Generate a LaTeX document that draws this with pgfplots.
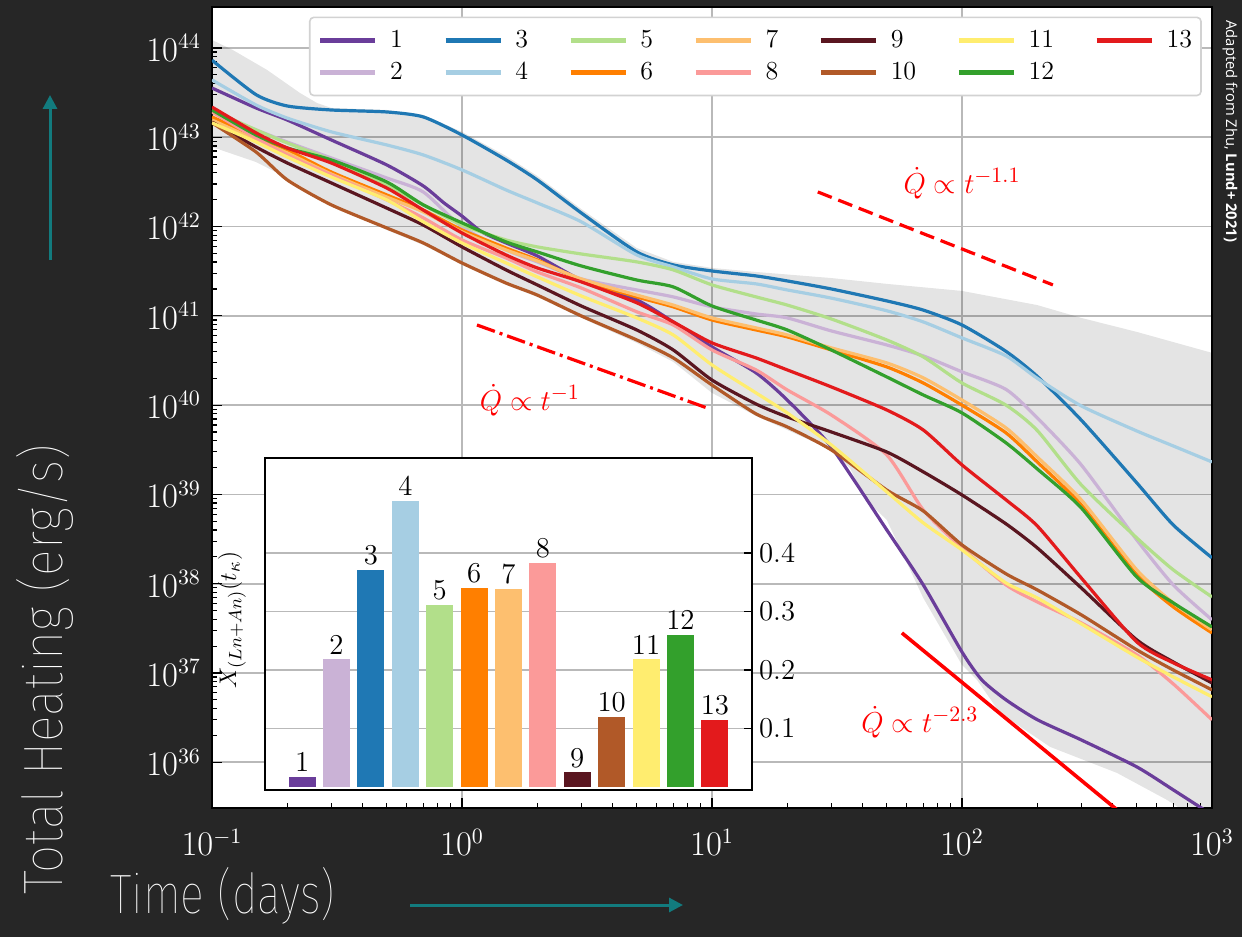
\documentclass[border=0pt]{standalone}
\usepackage{fontspec}
\usepackage{graphicx}
\usepackage{pgfplots}
\usepackage{pgfplotstable}
\pgfplotsset{compat=1.18}
\usetikzlibrary{arrows.meta}
\newfontfamily\thinfont{Fira Sans Thin}
\newfontfamily\credfont{Open Sans}
\definecolor{bg}{HTML}{262626}
\definecolor{arrowteal}{HTML}{127B7E}
\definecolor{c1}{HTML}{6A3D9A}
\definecolor{c2}{HTML}{CAB2D6}
\definecolor{c3}{HTML}{1F78B4}
\definecolor{c4}{HTML}{A6CEE3}
\definecolor{c5}{HTML}{B2DF8A}
\definecolor{c6}{HTML}{FF7F00}
\definecolor{c7}{HTML}{FDBF6F}
\definecolor{c8}{HTML}{FB9A99}
\definecolor{c9}{HTML}{5A1620}
\definecolor{c10}{HTML}{B15928}
\definecolor{c11}{HTML}{FFED6F}
\definecolor{c12}{HTML}{33A02C}
\definecolor{c13}{HTML}{E31A1C}

\pgfplotstableread{
t    c2      c3      c4      c5      c6      c7      c8      c9      c10     c11     c12     c13
0.1  1.92e43 7.3e43  4.39e43 2.02e43 1.69e43 1.56e43 1.92e43 1.48e43 1.45e43 1.45e43 2.02e43 2.18e43
0.15 1.21e43 3.0e43  2.30e43 1.21e43 1.01e43 9.33e42 9.82e42 7.78e42 6.84e42 8.85e42 1.06e43 1.12e43
0.2  8.85e42 2.24e43 1.64e43 8.63e42 7.21e42 6.67e42 6.34e42 5.15e42 3.33e42 6.01e42 7.59e42 7.59e42
0.3  5.86e42 2.02e43 1.15e43 5.57e42 4.08e42 3.88e42 3.78e42 3.08e42 1.75e42 3.59e42 5.57e42 5.15e42
0.5  3.50e42 1.92e43 8.20e42 2.92e42 2.26e42 2.14e42 1.99e42 1.61e42 9.64e41 1.99e42 3.16e42 2.70e42
0.7  2.44e42 1.69e43 6.34e42 1.75e42 1.53e42 1.46e42 1.25e42 1.04e42 6.55e41 1.13e42 1.75e42 1.53e42
1    9.9e41  1.06e43 4.31e42 1.04e42 9.16e41 8.71e41 7.08e41 5.92e41 3.91e41 6.55e41 1.10e42 8.47e41
1.5  5.47e41 5.57e42 2.57e42 7.08e41 5.75e41 5.47e41 4.45e41 3.27e41 2.33e41 3.91e41 6.73e41 4.81e41
2    4.02e41 3.33e42 1.84e42 5.92e41 4.23e41 4.12e41 3.10e41 2.22e41 1.71e41 2.73e41 5.20e41 3.44e41
3    2.59e41 1.42e42 1.13e42 4.93e41 2.52e41 2.59e41 2.05e41 1.29e41 9.98e40 1.67e41 3.62e41 2.40e41
5    1.95e41 5.2e41  4.81e41 4.02e41 1.63e41 1.71e41 1.11e41 6.95e40 5.37e40 9.48e40 2.52e41 1.40e41
7    1.63e41 3.72e41 3.53e41 3.27e41 1.26e41 1.32e41 7.9e40  4.15e40 3.38e40 6.11e40 2.11e41 8.55e40
10   1.26e41 3.18e41 2.59e41 2.22e41 8.99e40 9.48e40 4.15e40 1.91e40 1.68e40 2.82e40 1.29e41 4.98e40
15   1.05e41 2.80e41 2.28e41 1.63e41 6.95e40 7.33e40 2.48e40 1.03e40 7.98e39 1.37e40 8.99e40 3.38e40
20   9.48e40 2.46e41 1.95e41 1.32e41 5.81e40 6.11e40 1.48e40 7.38e39 5.70e39 8.18e39 6.95e40 2.48e40
30   6.78e40 2.0e41  1.58e41 9.23e40 4.15e40 4.38e40 7.76e39 5.01e39 3.15e39 3.58e39 4.15e40 1.60e40
50   4.72e40 1.47e41 1.14e41 5.37e40 2.68e40 2.97e40 2.77e39 2.99e39 1.12e39 1.07e39 2.07e40 8.83e39
70   3.56e40 1.16e41 8.55e40 3.47e40 1.77e40 2.02e40 6.71e38 1.79e39 6.53e38 4.80e38 1.30e40 5.27e39
100  2.36e40 7.9e40  5.66e40 1.77e40 1.00e40 1.14e40 2.52e38 9.86e38 2.72e38 2.39e38 8.18e39 2.14e39
150  1.50e40 4.0e40  3.56e40 1.00e40 4.89e39 5.56e39 9.70e37 4.68e38 1.29e38 1.02e38 3.78e39 8.69e38
200  7.2e39  2.1e40  2.0e40  5.2e39  2.31e39 2.63e39 6.25e37 2.52e38 8.53e37 6.93e37 1.93e39 4.44e38
300  2.14e39 6.8e39  9.8e39  1.28e39 7.64e38 8.69e38 3.64e37 8.97e37 4.48e37 3.55e37 7.06e38 1.16e38
500  3.10e38 1.35e39 5.14e39 3.26e38 1.26e38 1.43e38 1.60e37 2.35e37 1.82e37 1.51e37 1.19e38 2.23e37
700  9.70e37 4.55e38 3.49e39 1.43e38 5.50e37 6.10e37 7.55e36 1.33e37 1.08e37 9.04e36 6.10e37 1.30e37
1000 3.94e37 1.95e38 2.31e39 7.11e37 2.81e37 3.04e37 2.99e36 7.74e36 6.47e36 5.41e36 3.28e37 8.38e36
}\heat

\pgfplotstableread{
t     c1
0.1   3.56e43
0.15  2.13e43
0.2   1.56e43
0.3   9.33e42
0.5   4.90e42
0.7   2.85e42
0.847 1.84e42
1     1.31e42
1.2   8.71e41
1.5   6.55e41
2     4.69e41
3     2.52e41
5     1.51e41
7     8.55e40
10    4.49e40
15    2.30e40
20    1.14e40
30    3.40e39
50    4.01e38
70    9.70e37
100   1.72e37
120   8.38e36
150   5.0e36
200   3.0e36
300   1.78e36
500   8.89e35
700   4.91e35
1000  2.58e35
}\heatone

\begin{document}
\begin{tikzpicture}
\fill[bg] (0,0) rectangle (621pt,468.5pt);
\path[use as bounding box] (0,0) rectangle (621pt,468.5pt);

\begin{axis}[
  at={(106pt,64.5pt)}, anchor=south west,
  scale only axis, width=500pt, height=400.5pt,
  xmode=log, ymode=log,
  xmin=0.1, xmax=1000, ymin=3.08e35, ymax=2.88e44,
  xtick={0.1,1,10,100,1000},
  ytick={1e36,1e37,1e38,1e39,1e40,1e41,1e42,1e43,1e44},
  grid=major, major grid style={gray!55, line width=0.8pt},
  tick pos=left, tick align=inside,
  major tick length=5pt, minor tick length=2.5pt,
  every tick/.style={black, line width=0.6pt},
  axis line style={black, line width=1pt},
  axis background/.style={fill=white},
  ticklabel style={text=white, font=\fontsize{16}{16}\selectfont},
  xticklabel style={yshift=-7pt},
  yticklabel style={xshift=-2pt},
  legend columns=7,
  legend cell align=left,
  legend image code/.code={\draw[#1, line width=2.6pt] (0pt,0pt) -- (27.5pt,0pt); \path (34pt,0pt);},
  legend style={at={(0.097,0.988)}, anchor=north west, draw=gray!35, line width=0.8pt,
    rounded corners=2pt, fill=white, font=\fontsize{13}{13}\selectfont,
    inner xsep=4pt, inner ysep=4pt,
    nodes={inner xsep=0.5pt, inner ysep=2.5pt},
    /tikz/every even column/.append style={column sep=19.5pt},
    /tikz/row sep=0.5pt},
]
% grey band
\addplot[draw=none, fill=black, fill opacity=0.105, forget plot] coordinates {
(0.1,1.23e44) (0.121,9.5e43) (0.166,5.68e43) (0.225,3.13e43) (0.263,2.42e43) (0.3,2.13e43)
(0.5,2.02e43) (0.7,1.78e43) (1,1.15e43) (1.5,6.18e42) (2,3.69e42) (3,1.57e42) (5,5.75e41)
(7,4.02e41) (10,3.44e41) (15,3.10e41) (30,2.65e41) (50,2.28e41) (100,1.90e41) (200,1.32e41)
(300,9.48e40) (500,6.61e40) (1000,3.85e40) (1000,2.0e35)
(816.6,2.58e35) (660.7,3.79e35) (416.9,7.60e35) (224.9,1.49e36) (141.9,3.57e36) (114.8,8.38e36)
(100,1.23e37) (70,6.93e37) (50,5.19e38) (41.3,8.69e38) (35.6,1.98e39) (30,3.15e39) (20,5.27e39)
(15,7.57e39) (10,1.37e40) (7,3.05e40) (5,4.98e40) (3,9.48e40) (2,1.63e41) (1.5,2.22e41)
(1,3.72e41) (0.7,6.22e41) (0.5,9.16e41) (0.3,1.75e42) (0.2,3.50e42) (0.15,5.28e42) (0.1,7.78e42)
} -- cycle;

\pgfplotsset{curve/.style={line width=1.6pt, smooth, tension=0.4, forget plot}}
\addplot[c1,  curve] table[x=t, y=c1]  {\heatone};
\addplot[c2,  curve] table[x=t, y=c2]  {\heat};
\addplot[c3,  curve] table[x=t, y=c3]  {\heat};
\addplot[c4,  curve] table[x=t, y=c4]  {\heat};
\addplot[c5,  curve] table[x=t, y=c5]  {\heat};
\addplot[c6,  curve] table[x=t, y=c6]  {\heat};
\addplot[c7,  curve] table[x=t, y=c7]  {\heat};
\addplot[c8,  curve] table[x=t, y=c8]  {\heat};
\addplot[c9,  curve] table[x=t, y=c9]  {\heat};
\addplot[c10, curve] table[x=t, y=c10] {\heat};
\addplot[c11, curve] table[x=t, y=c11] {\heat};
\addplot[c12, curve] table[x=t, y=c12] {\heat};
\addplot[c13, curve] table[x=t, y=c13] {\heat};

% power laws
\addplot[red, line width=1.6pt, dash pattern=on 7.5pt off 3.5pt, forget plot] coordinates {(26.5,2.44e42) (231,2.22e41)};
\addplot[red, line width=1.6pt, dash pattern=on 9.5pt off 2.5pt on 1.5pt off 2.5pt, forget plot] coordinates {(1.148,7.9e40) (9.55,9.3e39)};
\addplot[red, line width=1.8pt, forget plot] coordinates {(57.5,2.81e37) (428,2.77e35)};

\node[text=red, font=\fontsize{15}{15}\selectfont] at (axis cs:100,3.08e42) {$\dot{Q}\propto t^{-1.1}$};
\node[text=red, font=\fontsize{15}{15}\selectfont] at (axis cs:1.87,1.14e40) {$\dot{Q}\propto t^{-1}$};
\node[text=red, font=\fontsize{15}{15}\selectfont] at (axis cs:67.9,2.83e36) {$\dot{Q}\propto t^{-2.3}$};

\addlegendimage{c1}\addlegendimage{c3}\addlegendimage{c5}\addlegendimage{c7}
\addlegendimage{c9}\addlegendimage{c11}\addlegendimage{c13}
\addlegendimage{c2}\addlegendimage{c4}\addlegendimage{c6}\addlegendimage{c8}
\addlegendimage{c10}\addlegendimage{c12}
\legend{1,3,5,7,9,11,13,2,4,6,8,10,12}
\end{axis}

% inset bar chart
\begin{axis}[
  at={(132.5pt,73.5pt)}, anchor=south west,
  scale only axis, width=243.5pt, height=166pt,
  xmin=-0.08, xmax=14.08, ymin=-0.005, ymax=0.562,
  xtick=\empty, ytick={0.1,0.2,0.3,0.4},
  ytick pos=right, yticklabel pos=right, tick align=inside,
  major tick length=4pt,
  every tick/.style={black, line width=0.8pt},
  ymajorgrids, grid style={gray!55, line width=0.8pt},
  axis line style={black, line width=1.2pt},
  axis background/.style={fill=white},
  yticklabel style={font=\fontsize{13.5}{13.5}\selectfont, /pgf/number format/fixed, /pgf/number format/precision=1},
  ybar, bar width=13.5pt,
  nodes near coords={\pgfmathprintnumber[fixed,precision=0]{\pgfplotspointmeta}},
  nodes near coords align=vertical,
  point meta=x,
  every node near coord/.append style={font=\fontsize{13.5}{13.5}\selectfont, text=black, anchor=south, inner sep=2.5pt},
  clip=false,
]
\addplot[fill=c1,  draw=none, bar shift=0pt] coordinates {(1,0.017)};
\addplot[fill=c2,  draw=none, bar shift=0pt] coordinates {(2,0.218)};
\addplot[fill=c3,  draw=none, bar shift=0pt] coordinates {(3,0.371)};
\addplot[fill=c4,  draw=none, bar shift=0pt] coordinates {(4,0.488)};
\addplot[fill=c5,  draw=none, bar shift=0pt] coordinates {(5,0.311)};
\addplot[fill=c6,  draw=none, bar shift=0pt] coordinates {(6,0.340)};
\addplot[fill=c7,  draw=none, bar shift=0pt] coordinates {(7,0.338)};
\addplot[fill=c8,  draw=none, bar shift=0pt] coordinates {(8,0.383)};
\addplot[fill=c9,  draw=none, bar shift=0pt] coordinates {(9,0.025)};
\addplot[fill=c10, draw=none, bar shift=0pt] coordinates {(10,0.119)};
\addplot[fill=c11, draw=none, bar shift=0pt] coordinates {(11,0.218)};
\addplot[fill=c12, draw=none, bar shift=0pt] coordinates {(12,0.260)};
\addplot[fill=c13, draw=none, bar shift=0pt] coordinates {(13,0.114)};
\end{axis}
\node[rotate=90, font=\fontsize{13}{13}\selectfont] at (116pt,158.5pt) {$X_{(Ln+An)}(t_\kappa)$};

% decorations
\draw[arrowteal, line width=1.5pt, -{Triangle[length=7pt,width=7pt]}] (25pt,338.5pt) -- (25pt,421pt);
\draw[arrowteal, line width=1.5pt, -{Triangle[length=7pt,width=7pt]}] (205pt,16pt) -- (341.5pt,16pt);
\node[anchor=base west, text=white, inner sep=0pt] at (55pt,12pt) {\resizebox{112.5pt}{23pt}{\thinfont Time (days)}};
\node[rotate=90, anchor=base west, text=white, inner sep=0pt] at (31pt,21pt) {\resizebox{225pt}{23pt}{\thinfont Total Heating (erg/s)}};
\node[rotate=-90, anchor=west, text=white, inner sep=0pt, font=\credfont\fontsize{7.4}{7.4}\selectfont] at (615pt,458.5pt) {Adapted from Zhu, \textbf{Lund+ 2021)}};
\end{tikzpicture}
\end{document}
